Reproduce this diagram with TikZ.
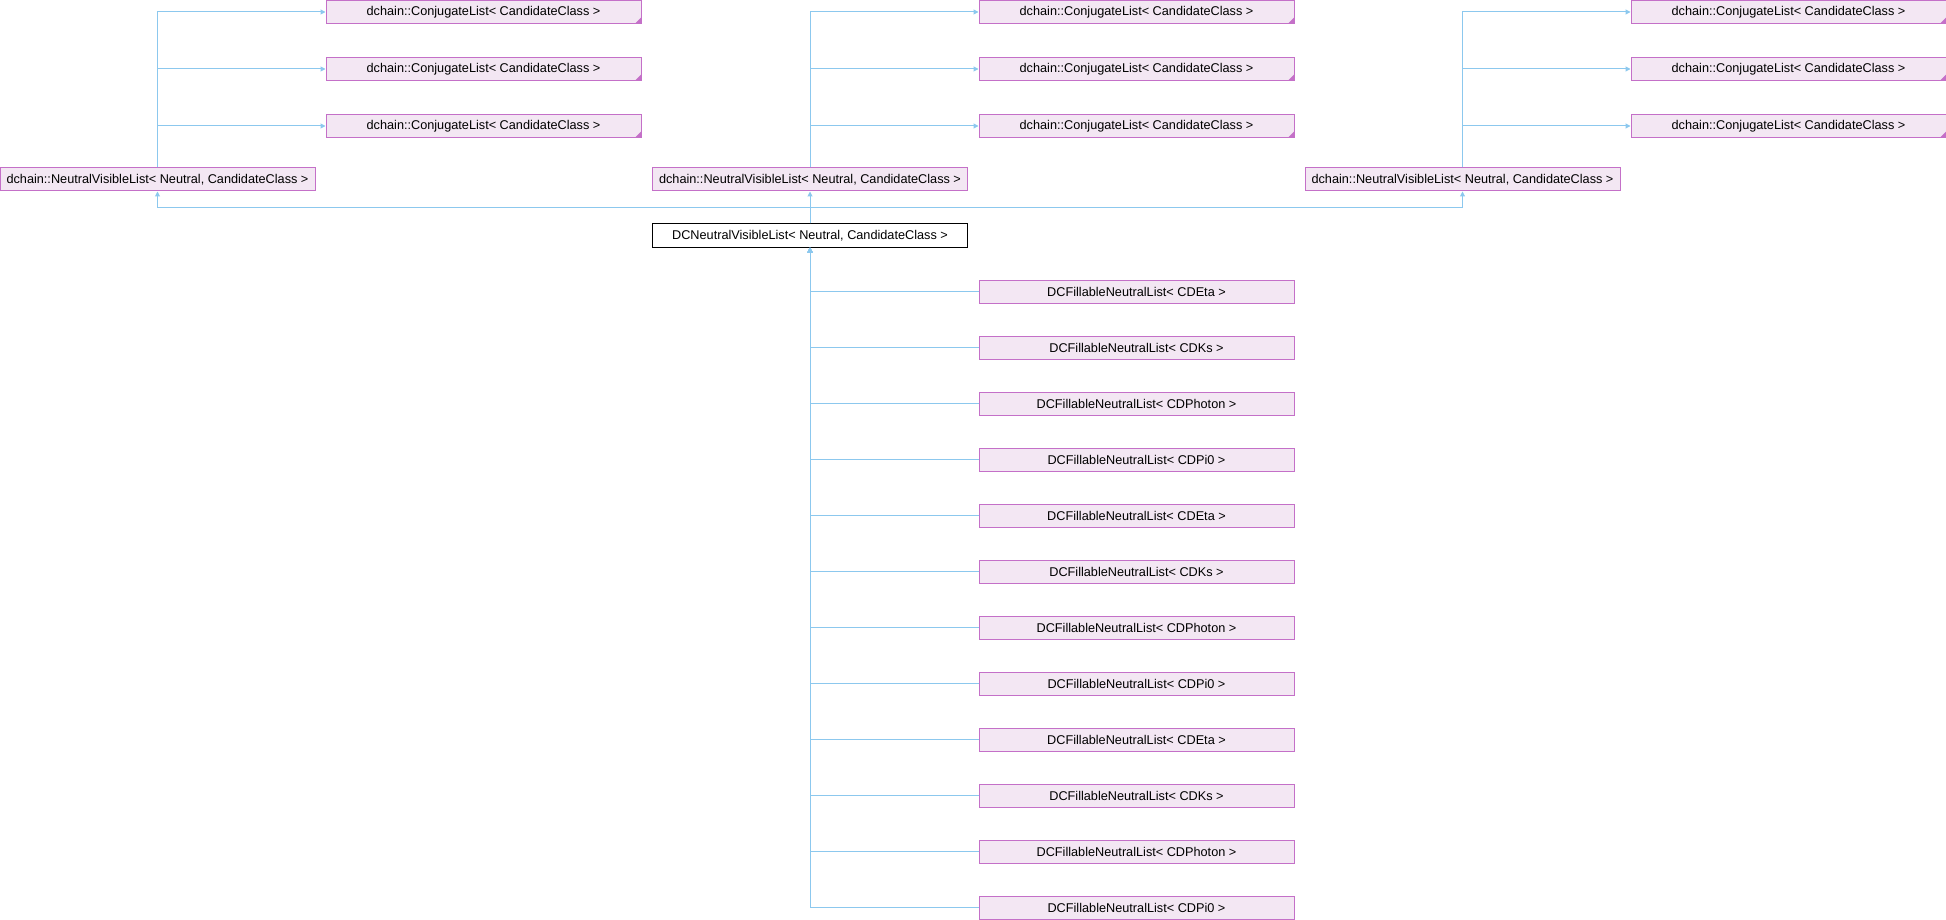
\documentclass[tikz,border=0pt]{standalone}
\usepackage{fontspec}
\setmainfont{Liberation Sans}
\usetikzlibrary{positioning,arrows.meta}
\definecolor{boxline}{RGB}{196,112,200}
\definecolor{boxfill}{RGB}{243,231,243}
\definecolor{edgeblue}{RGB}{140,200,238}

\begin{document}
\begin{tikzpicture}[x=1pt, y=-1pt, node distance=33pt,
  every node/.style={font=\fontsize{12.7}{14}\selectfont, minimum width=315pt, minimum height=23pt, inner sep=0pt, line width=1pt},
  classbox/.style={rectangle, draw=boxline, fill=boxfill},
  truncbox/.style={classbox, path picture={\fill[boxline] (path picture bounding box.south east) -- ++(-6pt,0pt) -- ++(6pt,6pt) -- cycle;}},
  mainbox/.style={rectangle, draw=black, fill=white},
  inherit/.style={draw=edgeblue, line width=1pt, -{Triangle[length=5pt,width=5pt]}}]
  \useasboundingbox (0,0) rectangle (1946,920);

  \node[classbox] (nvlL) at (157.5,179.5) {dchain::NeutralVisibleList< Neutral, CandidateClass >};
  \node[classbox] (nvlM) at (810,179.5) {dchain::NeutralVisibleList< Neutral, CandidateClass >};
  \node[classbox] (nvlR) at (1462.5,179.5) {dchain::NeutralVisibleList< Neutral, CandidateClass >};
  \node[mainbox] (dc) at (810,235.5) {DCNeutralVisibleList< Neutral, CandidateClass >};

  \foreach \col/\cx in {L/483.5, M/1136.5, R/1788.5} {
    \node[truncbox] (conj\col1) at (\cx,12) {dchain::ConjugateList< CandidateClass >};
    \node[truncbox, below=of conj\col1] (conj\col2) {dchain::ConjugateList< CandidateClass >};
    \node[truncbox, below=of conj\col2] (conj\col3) {dchain::ConjugateList< CandidateClass >};
  }

  \foreach \t [count=\i] in {CDEta,CDKs,CDPhoton,CDPi0,CDEta,CDKs,CDPhoton,CDPi0,CDEta,CDKs,CDPhoton,CDPi0}
    \node[classbox] (fill\i) at (1136.5,{291.5+56*(\i-1)}) {DCFillableNeutralList< \t\ >};

  \foreach \col in {L,M,R}
    \foreach \k in {1,2,3}
      \draw[inherit] (nvl\col.north) |- (conj\col\k.west);

  \coordinate (bus) at (0,208);
  \draw[inherit] (dc.north) -- (dc.north |- bus) -| (nvlL.south);
  \draw[inherit] (dc.north) -- (nvlM.south);
  \draw[inherit] (dc.north) -- (dc.north |- bus) -| (nvlR.south);

  \foreach \i in {1,...,12}
    \draw[inherit] (fill\i.west) -| (dc.south);
\end{tikzpicture}
\end{document}
